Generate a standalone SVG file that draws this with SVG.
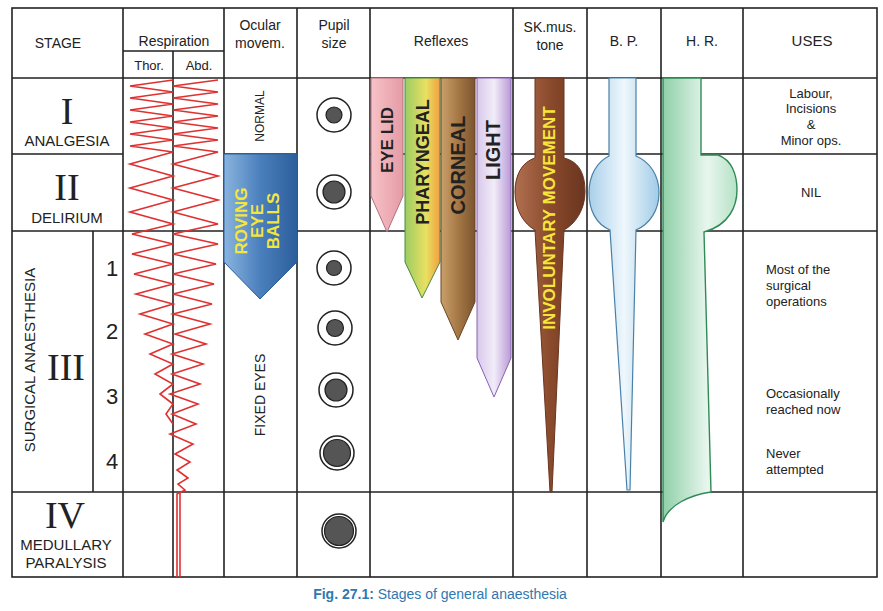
<svg xmlns="http://www.w3.org/2000/svg" width="883" height="611" viewBox="0 0 883 611">
<style>
.g{stroke:#222;stroke-width:1.6;fill:none}
.t{font-family:"Liberation Sans",Arial,sans-serif;fill:#222;text-anchor:middle}
.r{font-family:"Liberation Serif","Times New Roman",serif;fill:#222;text-anchor:middle;font-size:38px}
.b{font-family:"Liberation Sans",Arial,sans-serif;font-weight:bold;text-anchor:middle;font-size:17px}
.zz{fill:none;stroke:#e03030;stroke-width:1.6}
.pupo{fill:#fff;stroke:#222;stroke-width:1.5}
.pupi{fill:#555;stroke:#222;stroke-width:1.2}
</style>
<defs>
<linearGradient id="blue" x1="0" x2="1"><stop offset="0" stop-color="#8ab4de"/><stop offset="0.5" stop-color="#4a7fbd"/><stop offset="1" stop-color="#2c5e9a"/></linearGradient>
<linearGradient id="pink" x1="0" x2="1"><stop offset="0" stop-color="#f7c3c8"/><stop offset="1" stop-color="#e59aa4"/></linearGradient>
<linearGradient id="phar" x1="0" x2="1"><stop offset="0" stop-color="#9ccc65"/><stop offset="0.6" stop-color="#e8e060"/><stop offset="1" stop-color="#f2a040"/></linearGradient>
<linearGradient id="corn" x1="0" x2="1"><stop offset="0" stop-color="#c9a06a"/><stop offset="0.5" stop-color="#a67845"/><stop offset="1" stop-color="#7b5530"/></linearGradient>
<linearGradient id="light" x1="0" x2="1"><stop offset="0" stop-color="#d8c8ec"/><stop offset="0.5" stop-color="#f2ecf8"/><stop offset="1" stop-color="#b89ad6"/></linearGradient>
<linearGradient id="musc" x1="0" x2="1"><stop offset="0" stop-color="#b07050"/><stop offset="0.5" stop-color="#8a4a2c"/><stop offset="1" stop-color="#6a3520"/></linearGradient>
<linearGradient id="bp" x1="0" x2="1"><stop offset="0" stop-color="#a8d0ea"/><stop offset="0.5" stop-color="#eef7fc"/><stop offset="1" stop-color="#a0cbe6"/></linearGradient>
<linearGradient id="hr" x1="0" x2="1"><stop offset="0" stop-color="#8fd0a8"/><stop offset="0.6" stop-color="#e8f6ee"/><stop offset="1" stop-color="#b5e2c6"/></linearGradient>
</defs>

<g id="grid">
<rect class="g" x="12" y="8" width="865" height="569"/>
<path class="g" d="M12 78H877M12 154H123M224 154H297M370 154H513M513 154H877M12 231H877M12 492H877M123 51H224M173 51V577M93 231V492M123 8V577M224 8V577M297 8V577M370 8V577M513 8V577M587 8V577M661 8V577M743 8V577"/>
</g>

<g id="headers">
<text class="t" x="58" y="48" font-size="14">STAGE</text>
<text class="t" x="174" y="46" font-size="14">Respiration</text>
<text class="t" x="149" y="70" font-size="13">Thor.</text>
<text class="t" x="199" y="70" font-size="13">Abd.</text>
<text class="t" x="260" y="30" font-size="14">Ocular</text>
<text class="t" x="260" y="48" font-size="14">movem.</text>
<text class="t" x="334" y="30" font-size="14">Pupil</text>
<text class="t" x="334" y="48" font-size="14">size</text>
<text class="t" x="441" y="46" font-size="14">Reflexes</text>
<text class="t" x="550" y="32" font-size="14">SK.mus.</text>
<text class="t" x="550" y="50" font-size="14">tone</text>
<text class="t" x="624" y="46" font-size="14">B. P.</text>
<text class="t" x="702" y="46" font-size="14">H. R.</text>
<text class="t" x="812" y="46" font-size="15">USES</text>
</g>

<g id="stages">
<text class="r" x="67" y="124">I</text>
<text class="t" x="67" y="146" font-size="15">ANALGESIA</text>
<text class="r" x="67" y="200">II</text>
<text class="t" x="67" y="223" font-size="15">DELIRIUM</text>
<text class="t" font-size="15" transform="translate(35 360) rotate(-90)">SURGICAL ANAESTHESIA</text>
<text class="r" x="66" y="380">III</text>
<text class="t" x="112" y="276" font-size="22">1</text>
<text class="t" x="112" y="339" font-size="22">2</text>
<text class="t" x="112" y="404" font-size="22">3</text>
<text class="t" x="112" y="469" font-size="22">4</text>
<text class="r" x="65" y="528">IV</text>
<text class="t" x="66" y="550" font-size="15">MEDULLARY</text>
<text class="t" x="66" y="568" font-size="15">PARALYSIS</text>
</g>

<g id="respiration">
<polyline class="zz" points="173,80 130,86 173,92 130,98 173,104 130,110 173,116 130,122 173,128 130,134 173,140 130,146 173,152 130,164 173,176 130,188 173,200 130,212 173,224 132,234 173,244 132,254 173,264 134,274 173,284 136,294 173,304 140,314 173,324 145,334 173,344 150,354 173,364 155,374 173,384 160,394 173,404 166,414 173,424"/>
<polyline class="zz" points="218,80 173,86 218,92 173,98 218,104 173,110 218,116 173,122 218,128 173,134 218,140 173,146 218,152 173,164 218,176 173,188 218,200 173,212 218,224 173,234 218,244 173,254 216,264 173,274 214,284 173,294 212,304 173,314 210,324 175,334 206,344 172,354 203,364 172,374 200,384 170,394 198,404 172,414 196,424 170,434 193,444 175,454 190,462 177,470 188,478 178,484 185,490 177,494 177,577"/>
<line x1="180" y1="492" x2="180" y2="577" stroke="#e03030" stroke-width="1.6"/>
</g>

<g id="ocular">
<text class="t" font-size="12" transform="translate(264 116) rotate(-90)">NORMAL</text>
<path d="M224 154H297V262L260 299L224 262Z" fill="url(#blue)" stroke="#2c5e9a" stroke-width="1"/>
<g class="b" fill="#f5e63a" font-size="15">
<text transform="translate(247 221) rotate(-90)">ROVING</text>
<text transform="translate(263 221) rotate(-90)">EYE</text>
<text transform="translate(279 221) rotate(-90)">BALLS</text>
</g>
<text class="t" font-size="14" transform="translate(265 395) rotate(-90)">FIXED EYES</text>
</g>

<g id="pupils">
<circle class="pupo" cx="334" cy="115" r="17"/><circle class="pupi" cx="334" cy="115" r="8"/>
<circle class="pupo" cx="334" cy="192" r="17"/><circle class="pupi" cx="334" cy="192" r="11"/>
<circle class="pupo" cx="334" cy="268" r="17"/><circle class="pupi" cx="334" cy="268" r="7.5"/>
<circle class="pupo" cx="335" cy="328" r="17"/><circle class="pupi" cx="335" cy="328" r="8.5"/>
<circle class="pupo" cx="336" cy="390" r="17"/><circle class="pupi" cx="336" cy="390" r="11"/>
<circle class="pupo" cx="337" cy="453" r="17"/><circle class="pupi" cx="337" cy="453" r="13.5"/>
<circle class="pupo" cx="339" cy="531" r="17"/><circle class="pupi" cx="339" cy="531" r="14.5"/>
</g>

<g id="reflexes">
<path d="M371 78H403V196L387 232L371 196Z" fill="url(#pink)" stroke="#b07080" stroke-width="1"/>
<path d="M405 78H440V262L422 298L405 262Z" fill="url(#phar)" stroke="#4a8a40" stroke-width="1"/>
<path d="M441 78H475V302L458 340L441 302Z" fill="url(#corn)" stroke="#6a4525" stroke-width="1"/>
<path d="M477 78H511V358L494 397L477 358Z" fill="url(#light)" stroke="#8a60b0" stroke-width="1"/>
<g class="b" fill="#222">
<text transform="translate(393 140) rotate(-90)">EYE LID</text>
<text transform="translate(429 162) rotate(-90)" font-size="18">PHARYNGEAL</text>
<text transform="translate(465 165) rotate(-90)" font-size="20">CORNEAL</text>
<text transform="translate(500 150) rotate(-90)" font-size="20">LIGHT</text>
</g>
</g>

<g id="skmus">
<path d="M535 78H564V158C580 162 585 175 585 192C585 210 575 224 564 230L552 492L550 492L535 230C524 224 515 210 515 192C515 175 522 162 535 158Z" fill="url(#musc)" stroke="#6a3520" stroke-width="1"/>
<text class="b" fill="#f5e63a" font-size="13" transform="translate(555 218) rotate(-90)">INVOLUNTARY  MOVEMENT</text>
</g>

<g id="bp">
<path d="M609 78H636V156C650 162 659 175 659 193C659 210 650 224 636 230L630 490L627 490L610 230C596 224 589 210 589 193C589 175 597 162 609 156Z" fill="url(#bp)" stroke="#4a80a8" stroke-width="1.2"/>
</g>

<g id="hr">
<path d="M663 78H701V155H718C732 160 737 175 737 190C737 205 730 225 704 232L711 492C690 495 668 505 663 522Z" fill="url(#hr)" stroke="#2f8a55" stroke-width="1.4"/>
</g>

<g id="uses">
<text class="t" font-size="13" x="811" y="98">Labour,</text>
<text class="t" font-size="13" x="811" y="113">Incisions</text>
<text class="t" font-size="13" x="811" y="129">&amp;</text>
<text class="t" font-size="13" x="811" y="145">Minor ops.</text>
<text class="t" font-size="13" x="811" y="197">NIL</text>
<text class="t" font-size="13" x="766" y="274" style="text-anchor:start">Most of the</text>
<text class="t" font-size="13" x="766" y="290" style="text-anchor:start">surgical</text>
<text class="t" font-size="13" x="766" y="306" style="text-anchor:start">operations</text>
<text class="t" font-size="13" x="766" y="398" style="text-anchor:start">Occasionally</text>
<text class="t" font-size="13" x="766" y="414" style="text-anchor:start">reached now</text>
<text class="t" font-size="13" x="766" y="458" style="text-anchor:start">Never</text>
<text class="t" font-size="13" x="766" y="474" style="text-anchor:start">attempted</text>
</g>

<text x="440" y="599" font-family="Liberation Sans, Arial, sans-serif" font-size="14" fill="#2f78b0" text-anchor="middle"><tspan font-weight="bold">Fig. 27.1:</tspan> Stages of general anaesthesia</text>
</svg>
